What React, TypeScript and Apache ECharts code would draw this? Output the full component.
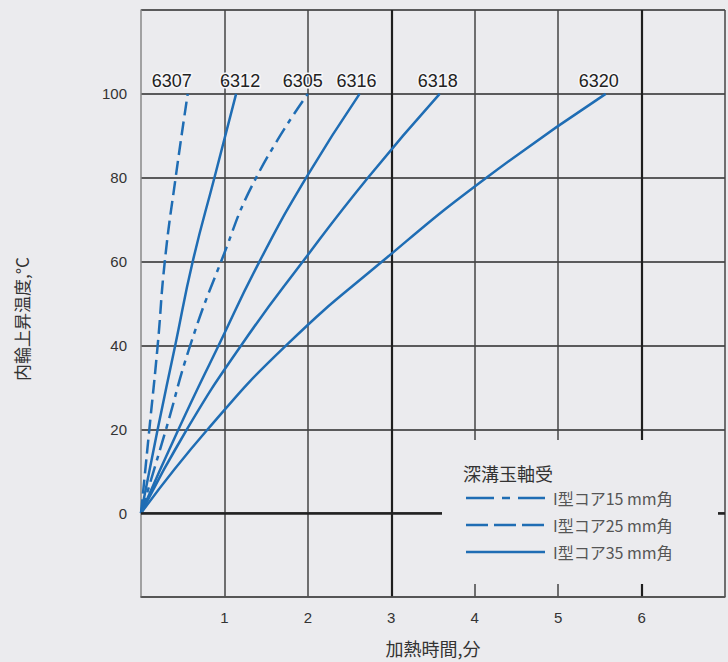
import React, { useEffect, useRef } from "react";
import * as echarts from "echarts";

const BG = "#ebebee";
const BLUE = "#1f6db4";

// Bearing curves: [heating time (min), inner ring temperature rise (°C)]
const s6307 = [[0, 0], [0.1, 20], [0.2, 40], [0.285, 60], [0.415, 80], [0.56, 100]];
const s6312 = [[0, 0], [0.2, 20], [0.41, 40], [0.62, 60], [0.88, 80], [1.14, 100]];
const s6305 = [[0, 0], [0.3, 20], [0.59, 40], [0.96, 60], [1.38, 80], [2.0, 100]];
const s6316 = [[0, 0], [0.45, 20], [0.93, 40], [1.42, 60], [1.98, 80], [2.62, 100]];
const s6318 = [[0, 0], [0.55, 20], [1.2, 40], [1.94, 60], [2.72, 80], [3.58, 100]];
const s6320 = [[0, 0], [0.8, 20], [1.74, 40], [2.89, 60], [4.14, 80], [5.57, 100]];

const legendTitle = "深溝玉軸受";
const legendNames = ["I型コア15 mm角", "I型コア25 mm角", "I型コア35 mm角"];
const xName = "加熱時間,分";
const yName = "内輪上昇温度,°C";

const DASH_DOT = [16, 6, 5, 6];
const DASH = [14, 6];

export default function App() {
  const ref = useRef<HTMLDivElement>(null);
  useEffect(() => {
    document.body.style.margin = "0";
    document.body.style.background = BG;
    const chart = echarts.init(ref.current!, null, { renderer: "svg" });

    const mk = (name: string, data: number[][], dash: any, dx: number) => ({
      type: "line",
      name,
      smooth: 0.5,
      symbol: "circle",
      symbolSize: 0,
      showSymbol: true,
      lineStyle: { color: BLUE, width: 2.5, type: dash },
      itemStyle: { color: BLUE },
      label: { show: false },
      z: 3,
      data: data.map((p, i) =>
        i === data.length - 1
          ? {
              value: p,
              label: {
                show: true,
                position: "top",
                distance: 4,
                offset: [dx, 0],
                formatter: name,
                color: "#222",
                fontSize: 18,
                fontFamily: "Liberation Sans, Arial, sans-serif",
                textBorderColor: "#f7f7f9",
                textBorderWidth: 3,
              },
            }
          : p
      ),
    });

    const series: any[] = [
      mk("6307", s6307, DASH, -16),
      mk("6312", s6312, "solid", 4),
      mk("6305", s6305, DASH_DOT, -5),
      mk("6316", s6316, "solid", -3),
      mk("6318", s6318, "solid", -2),
      mk("6320", s6320, "solid", -7),
    ];
    series[0].markLine = {
      silent: true,
      symbol: ["none", "none"],
      label: { show: false },
      lineStyle: { color: "#222", width: 2.5, type: "solid" },
      data: [{ yAxis: 0 }],
    };

    const legendX = 466;
    const legendLen = 79;
    const legendYs = [498, 525, 552];
    const legendDashes = [[28, 8, 8, 8], [22, 6], null];

    const graphic: any[] = [
      {
        type: "rect",
        z: 10,
        shape: { x: 442, y: 440, width: 276, height: 144 },
        style: { fill: BG },
      },
      {
        type: "text",
        z: 11,
        x: 463,
        y: 473,
        style: {
          text: legendTitle,
          fill: "#333",
          font: '18px "Noto Sans CJK JP", sans-serif',
          textAlign: "left",
          textVerticalAlign: "middle",
        },
      },
      {
        type: "text",
        z: 11,
        x: 21,
        y: 319,
        rotation: Math.PI / 2,
        style: {
          text: yName,
          fill: "#333",
          font: '17px "Noto Sans CJK JP", sans-serif',
          textAlign: "center",
          textVerticalAlign: "middle",
        },
      },
    ];
    legendNames.forEach((n, i) => {
      graphic.push({
        type: "line",
        z: 11,
        shape: { x1: legendX, y1: legendYs[i], x2: legendX + legendLen, y2: legendYs[i] },
        style: { stroke: BLUE, lineWidth: 2.5, lineDash: legendDashes[i] || undefined },
      });
      graphic.push({
        type: "text",
        z: 11,
        x: 553,
        y: legendYs[i],
        style: {
          text: n,
          fill: "#555",
          font: '16px "Noto Sans CJK JP", sans-serif',
          textAlign: "left",
          textVerticalAlign: "middle",
        },
      });
    });

    chart.setOption({
      animation: false,
      backgroundColor: BG,
      textStyle: { fontFamily: "Liberation Sans, Arial, sans-serif" },
      grid: { left: 141, top: 10, width: 590, height: 590, containLabel: false },
      xAxis: [
        {
          type: "value",
          min: 0,
          max: 7,
          interval: 1,
          name: xName,
          nameLocation: "middle",
          nameGap: 42,
          nameTextStyle: { fontSize: 18, color: "#333", fontFamily: '"Noto Sans CJK JP", sans-serif' },
          axisLine: { onZero: false, lineStyle: { color: "#555", width: 1.5 } },
          axisTick: { show: false },
          axisLabel: {
            color: "#333",
            fontSize: 15,
            margin: 13,
            formatter: (v: number) => (v <= 0 || v >= 7 ? "" : String(v)),
          },
          splitLine: {
            show: true,
            lineStyle: { color: ["transparent", "#444", "#444", "#444", "#444", "#444", "#444", "#444"], width: 1.5 },
          },
        },
        {
          type: "value",
          min: 0,
          max: 7,
          interval: 3,
          axisLine: { show: false },
          axisTick: { show: false },
          axisLabel: { show: false },
          splitLine: { show: true, lineStyle: { color: ["transparent", "#1e1e1e", "#1e1e1e"], width: 2.2 } },
        },
      ],
      yAxis: {
        type: "value",
        min: -20,
        max: 120,
        interval: 20,
        axisLine: { show: true, lineStyle: { color: "#888", width: 1.5 } },
        axisTick: { show: false },
        axisLabel: {
          color: "#333",
          fontSize: 15,
          margin: 14,
          formatter: (v: number) => (v < 0 || v > 100 ? "" : String(v)),
        },
        splitLine: { show: true, lineStyle: { color: "#2a2a2a", width: 1.5 } },
      },
      graphic,
      series,
    });
    return () => chart.dispose();
  }, []);
  return <div ref={ref} style={{ position: "absolute", left: 0, top: 0, width: 728, height: 662 }} />;
}
